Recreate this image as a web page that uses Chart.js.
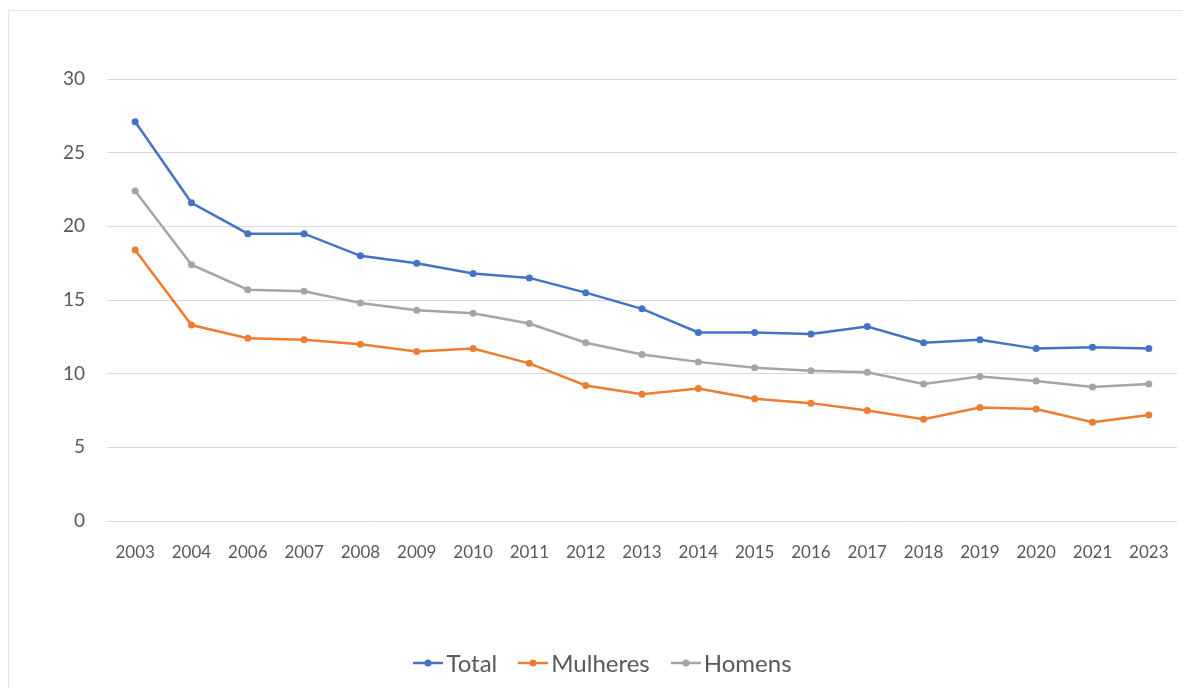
<!DOCTYPE html>
<html>
<head>
<meta charset="utf-8">
<script src="https://cdn.jsdelivr.net/npm/chart.js@4"></script>
<style>
    html, body { margin: 0; padding: 0; background: #fff; overflow: hidden; }
    #frame {
        position: absolute; left: 8px; top: 10px; width: 1200px; height: 700px;
        border: 1px solid #e4e4e4; box-sizing: border-box;
    }
    #wrap { position: absolute; left: 0; top: 0; width: 1183px; height: 688px; }
    #legend {
        position: absolute; left: 11px; top: 648px; width: 1183px;
        display: flex; justify-content: center; gap: 21px;
        font-family: Lato, sans-serif; font-size: 24px; color: #595959;
    }
    #legend .item { display: flex; align-items: center; gap: 3px; }
</style>
</head>
<body>
<div id="frame"></div>
<div id="wrap"><canvas id="chart1" width="1183" height="688"></canvas></div>
<div id="legend"></div>
<script>
// values

const years = ['2003', '2004', '2006', '2007', '2008', '2009', '2010', '2011', '2012', '2013',
    '2014', '2015', '2016', '2017', '2018', '2019', '2020', '2021', '2023'];

const total = [27.1, 21.6, 19.5, 19.5, 18.0, 17.5, 16.8, 16.5, 15.5, 14.4,
    12.8, 12.8, 12.7, 13.2, 12.1, 12.3, 11.7, 11.8, 11.7];

const mulheres = [18.4, 13.3, 12.4, 12.3, 12.0, 11.5, 11.7, 10.7, 9.2, 8.6,
    9.0, 8.3, 8.0, 7.5, 6.9, 7.7, 7.6, 6.7, 7.2];

const homens = [22.4, 17.4, 15.7, 15.6, 14.8, 14.3, 14.1, 13.4, 12.1, 11.3,
    10.8, 10.4, 10.2, 10.1, 9.3, 9.8, 9.5, 9.1, 9.3];

const yTicks = [0, 5, 10, 15, 20, 25, 30];

const seriesNames = ['Total', 'Mulheres', 'Homens'];
const seriesColors = ['#4472C4', '#ED7D31', '#A5A5A5'];
const seriesData = [total, mulheres, homens];

function makeDataset(i) {
    return {
        label: seriesNames[i],
        data: seriesData[i],
        borderColor: seriesColors[i],
        backgroundColor: seriesColors[i],
        pointBackgroundColor: seriesColors[i],
        pointBorderWidth: 0,
        pointRadius: 3.5,
        borderWidth: 2.5,
        tension: 0,
        fill: false
    };
}

let chart1 = new Chart(document.getElementById("chart1"), {
    type: 'line',
    data: {
        labels: years,
        datasets: [makeDataset(0), makeDataset(1), makeDataset(2)]
    },
    options: {
        responsive: false,
        animation: false,
        layout: { padding: { top: 79, right: 6, bottom: 127, left: 0 } },
        plugins: {
            legend: { display: false },
            tooltip: { enabled: false }
        },
        scales: {
            x: {
                offset: true,
                grid: { display: false },
                border: { display: false },
                ticks: {
                    color: '#595959',
                    font: { family: 'Lato', size: 17 },
                    padding: 13,
                    maxRotation: 0,
                    autoSkip: false
                },
                afterFit: s => { s.height = 40; }
            },
            y: {
                min: 0,
                max: 30,
                afterBuildTicks: s => { s.ticks = yTicks.map(v => ({ value: v })); },
                grid: { color: '#d9d9d9', lineWidth: 1, drawTicks: false },
                border: { display: false },
                ticks: {
                    color: '#595959',
                    font: { family: 'Lato', size: 19 },
                    padding: 22
                },
                afterFit: s => { s.width = 107; }
            }
        }
    }
});

// legend as html (line with a dot, like the original)
const legend = document.getElementById("legend");
seriesNames.forEach((name, i) => {
    const item = document.createElement("div");
    item.className = "item";
    item.innerHTML =
        '<svg width="30" height="10"><line x1="0" y1="5" x2="30" y2="5" stroke="' + seriesColors[i] +
        '" stroke-width="2.5"/><circle cx="15" cy="5" r="3.5" fill="' + seriesColors[i] + '"/></svg>' +
        '<span>' + name + '</span>';
    legend.appendChild(item);
});
</script>
</body>
</html>
